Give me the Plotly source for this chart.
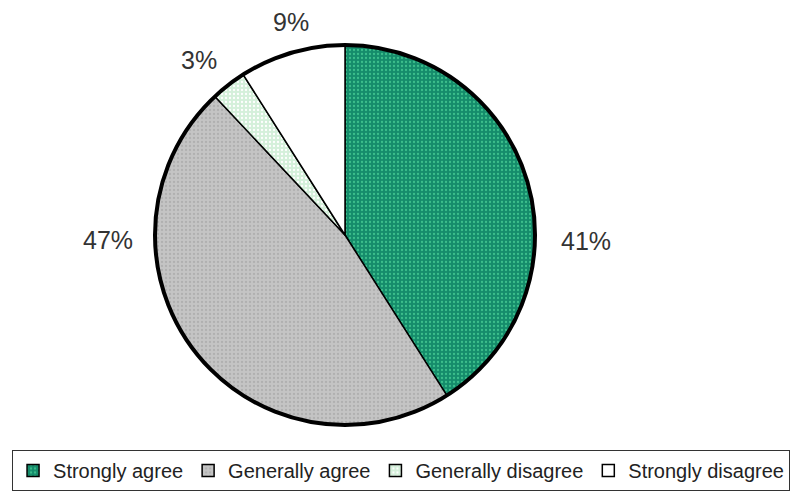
import plotly.graph_objects as go

categories = ["Strongly agree", "Generally agree", "Generally disagree", "Strongly disagree"]
values = [41, 47, 3, 9]
label_texts = [f"{v}%" for v in values]
colors = ["#158c6b", "#c4c4c4", "#d4f0da", "#ffffff"]
pattern_fg = ["#3cbf8c", "#b0b0b0", "#ffffff", "#ffffff"]
pattern_shapes = [".", ".", ".", ""]

# label anchor positions (paper coords), one per slice
label_x = [0.730, 0.134, 0.248, 0.362]
label_y = [0.509, 0.512, 0.878, 0.955]

# pie circle: centre (345, 235) px, radius 190 px
CX, CY, R = 345 / 803, 1 - 235 / 491, 190
RX, RY = R / 803, R / 491
PIE_X = [CX - RX, CX + RX]
PIE_Y = [CY - RY, CY + RY]

fig = go.Figure()
fig.add_trace(go.Pie(
    labels=categories,
    values=values,
    sort=False,
    direction="clockwise",
    rotation=0,
    textinfo="none",
    marker=dict(colors=colors, line=dict(color="#000000", width=1.5),
                pattern=dict(shape=pattern_shapes, fgcolor=pattern_fg, bgcolor=colors,
                             size=4, solidity=0.25)),
    domain=dict(x=PIE_X, y=PIE_Y),
    showlegend=True,
    hoverinfo="label+percent",
))

# thick outer rim
fig.add_shape(type="circle", xref="paper", yref="paper",
              x0=CX - RX, x1=CX + RX, y0=CY - RY, y1=CY + RY,
              line=dict(color="#000000", width=4))

for t, x, y in zip(label_texts, label_x, label_y):
    fig.add_annotation(text=t, x=x, y=y, xref="paper", yref="paper",
                       showarrow=False, xanchor="center", yanchor="middle",
                       font=dict(family="Liberation Sans, Arial, sans-serif", size=25, color="#333333"))

fig.update_layout(
    width=803, height=491,
    margin=dict(l=0, r=0, t=0, b=0),
    paper_bgcolor="white", plot_bgcolor="white",
    legend=dict(orientation="h", x=0.015, y=0.0, xanchor="left", yanchor="bottom",
                bordercolor="#333333", borderwidth=1,
                font=dict(family="Liberation Sans, Arial, sans-serif", size=20, color="#222222"),
                itemwidth=30),
)

fig.write_html("out.html", config={"displayModeBar": False},
               post_script="document.body.style.margin='0';")
